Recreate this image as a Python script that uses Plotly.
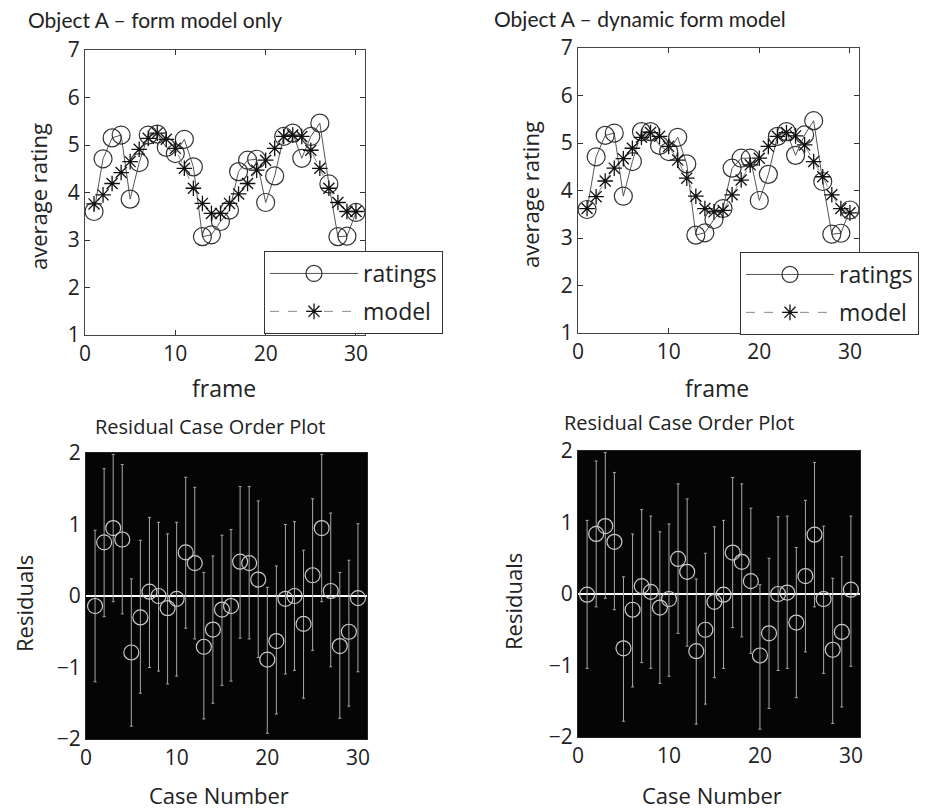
import plotly.graph_objects as go

W, H = 931, 812
FONT = "Open Sans"
TFONT = "Lato"

frames = list(range(1, 31))

ratings_form = [3.60, 4.71, 5.15, 5.21, 3.86, 4.63, 5.21, 5.23, 4.95, 4.82,
                5.12, 4.54, 3.07, 3.11, 3.39, 3.63, 4.44, 4.68, 4.70, 3.79,
                4.35, 5.18, 5.25, 4.72, 5.18, 5.46, 4.18, 3.07, 3.08, 3.58]
model_form = [3.76, 3.95, 4.19, 4.42, 4.65, 4.91, 5.14, 5.25, 5.12, 4.93,
              4.51, 4.09, 3.77, 3.56, 3.56, 3.77, 3.97, 4.19, 4.47, 4.68,
              4.93, 5.18, 5.21, 5.18, 4.89, 4.51, 4.09, 3.79, 3.60, 3.60]

ratings_dyn = [3.60, 4.71, 5.16, 5.21, 3.88, 4.61, 5.24, 5.24, 4.95, 4.82,
               5.12, 4.56, 3.06, 3.11, 3.39, 3.62, 4.47, 4.68, 4.68, 3.79,
               4.34, 5.14, 5.24, 4.74, 5.17, 5.47, 4.19, 3.08, 3.10, 3.59]
model_dyn = [3.62, 3.87, 4.20, 4.47, 4.67, 4.89, 5.12, 5.22, 5.14, 4.93,
             4.64, 4.26, 3.88, 3.62, 3.55, 3.58, 3.91, 4.22, 4.54, 4.68,
             4.93, 5.14, 5.22, 5.15, 4.96, 4.61, 4.29, 3.91, 3.62, 3.53]

resid_form = [-0.14, 0.75, 0.95, 0.79, -0.79, -0.30, 0.06, 0.00, -0.17, -0.04,
              0.61, 0.46, -0.71, -0.47, -0.19, -0.14, 0.48, 0.46, 0.23, -0.89,
              -0.63, -0.04, 0.00, -0.39, 0.29, 0.95, 0.07, -0.70, -0.50, -0.03]
resid_form_hi = [0.92, 1.78, 1.98, 1.84, 0.24, 0.78, 1.10, 1.03, 0.87, 1.03,
                 1.66, 1.52, 0.33, 0.56, 0.85, 0.93, 1.53, 1.53, 1.33, 0.12,
                 0.42, 1.00, 1.04, 0.64, 1.36, 1.98, 1.16, 0.33, 0.50, 1.01]
resid_form_lo = [-1.20, -0.29, -0.08, -0.25, -1.82, -1.36, -1.00, -1.05, -1.23, -1.12,
                 -0.45, -0.60, -1.72, -1.50, -1.25, -1.19, -0.59, -0.60, -0.86, -1.92,
                 -1.65, -1.09, -1.04, -1.43, -0.76, -0.08, -0.99, -1.71, -1.54, -1.06]

resid_dyn = [-0.01, 0.84, 0.95, 0.73, -0.76, -0.22, 0.11, 0.03, -0.19, -0.07,
             0.49, 0.31, -0.80, -0.50, -0.11, -0.01, 0.58, 0.45, 0.18, -0.86,
             -0.55, 0.00, 0.02, -0.40, 0.25, 0.83, -0.07, -0.78, -0.53, 0.06]
resid_dyn_hi = [1.03, 1.86, 1.98, 1.70, 0.24, 0.84, 1.18, 1.09, 0.87, 0.98,
                1.54, 1.33, 0.21, 0.57, 0.94, 1.03, 1.63, 1.54, 1.20, 0.13,
                0.50, 1.08, 1.09, 0.65, 1.31, 1.84, 0.95, 0.22, 0.52, 1.09]
resid_dyn_lo = [-1.04, -0.18, -0.06, -0.22, -1.78, -1.30, -0.96, -1.04, -1.25, -1.15,
                -0.55, -0.73, -1.82, -1.54, -1.17, -1.04, -0.47, -0.60, -0.83, -1.89,
                -1.60, -1.07, -1.04, -1.45, -0.81, -0.18, -1.11, -1.81, -1.58, -1.01]

titles_top = ["Object A \u2013 form model only", "Object A \u2013 dynamic form model"]
title_bottom = "Residual Case Order Plot"
top_yticks = [1, 2, 3, 4, 5, 6, 7]
x_ticks = [0, 10, 20, 30]
bottom_yticks = [-2, -1, 0, 1, 2]


def px(x):
    return x / W


def py(y):
    return 1 - y / H


fig = go.Figure()

# ---- top panels ----
for i, (rat, mod, leg) in enumerate([(ratings_form, model_form, "legend"),
                                     (ratings_dyn, model_dyn, "legend2")]):
    xa = "x" if i == 0 else "x2"
    ya = "y" if i == 0 else "y2"
    fig.add_trace(go.Scatter(
        x=frames, y=rat, mode="lines+markers", name="ratings",
        line=dict(color="#555555", width=1),
        marker=dict(symbol="circle-open", size=18, color="#333333",
                    line=dict(width=1.2, color="#333333")),
        xaxis=xa, yaxis=ya, legend=leg, legendgroup=f"r{i}"))
    fig.add_trace(go.Scatter(
        x=frames, y=mod, mode="lines+markers", name="model",
        line=dict(color="#8a8a8a", width=1, dash="dash"),
        marker=dict(symbol="asterisk-open", size=13, color="#111111",
                    line=dict(width=1.3, color="#111111")),
        xaxis=xa, yaxis=ya, legend=leg, legendgroup=f"m{i}"))

# ---- bottom panels ----
for i, (r, hi, lo) in enumerate([(resid_form, resid_form_hi, resid_form_lo),
                                 (resid_dyn, resid_dyn_hi, resid_dyn_lo)]):
    xa = "x3" if i == 0 else "x4"
    ya = "y3" if i == 0 else "y4"
    fig.add_trace(go.Scatter(
        x=frames, y=r, mode="markers", showlegend=False,
        marker=dict(symbol="circle-open", size=15, color="#c8c8c8",
                    line=dict(width=1.2, color="#c8c8c8")),
        error_y=dict(type="data", symmetric=False,
                     array=[h - v for h, v in zip(hi, r)],
                     arrayminus=[v - l for v, l in zip(r, lo)],
                     color="#a8a8a8", thickness=1, width=1.5),
        xaxis=xa, yaxis=ya))

tickfont = dict(family=FONT, size=21, color="#222222")

common_x = dict(range=[0, 31], tickvals=x_ticks, ticks="inside", ticklen=5,
                tickcolor="#333333", showline=True, linecolor="#444444",
                linewidth=1, mirror="ticks", showgrid=False, zeroline=False,
                tickfont=tickfont)
common_y_top = dict(range=[1, 7], tickvals=top_yticks, ticks="inside", ticklen=5,
                    tickcolor="#333333", showline=True, linecolor="#444444",
                    linewidth=1, mirror="ticks", showgrid=False, zeroline=False,
                    tickfont=tickfont)
common_y_bot = dict(range=[-2, 2], tickvals=bottom_yticks, ticks="", showline=True,
                    linecolor="#222222", linewidth=1, mirror=True, showgrid=False,
                    zeroline=True, zerolinecolor="#ffffff", zerolinewidth=2,
                    tickfont=tickfont)
common_x_bot = dict(common_x)
common_x_bot.update(ticks="", linecolor="#222222", mirror=True)

legfont = dict(family=FONT, size=23, color="#222222")

fig.update_layout(
    width=W, height=H,
    margin=dict(l=0, r=0, t=0, b=0, autoexpand=False),
    paper_bgcolor="white",
    plot_bgcolor="white",
    font=dict(family=FONT, size=21, color="#222222"),
    xaxis=dict(common_x, domain=[px(85), px(365)], anchor="y"),
    yaxis=dict(common_y_top, domain=[py(335), py(50)], anchor="x"),
    xaxis2=dict(common_x, domain=[px(578), px(859)], anchor="y2"),
    yaxis2=dict(common_y_top, domain=[py(333), py(48)], anchor="x2"),
    xaxis3=dict(common_x_bot, domain=[px(86), px(367)], anchor="y3"),
    yaxis3=dict(common_y_bot, domain=[py(739), py(453)], anchor="x3"),
    xaxis4=dict(common_x_bot, domain=[px(578), px(860)], anchor="y4"),
    yaxis4=dict(common_y_bot, domain=[py(737), py(451)], anchor="x4"),
    legend=dict(x=px(264), y=py(251), xanchor="left", yanchor="top",
                bgcolor="white", bordercolor="#333333", borderwidth=1,
                itemwidth=88, tracegroupgap=5, font=legfont),
    legend2=dict(x=px(740), y=py(252), xanchor="left", yanchor="top",
                 bgcolor="white", bordercolor="#333333", borderwidth=1,
                 itemwidth=88, tracegroupgap=5, font=legfont),
)

# black backgrounds for residual panels
for xr, yr in [("x3", "y3"), ("x4", "y4")]:
    fig.add_shape(type="rect", xref=f"{xr} domain", yref=f"{yr} domain",
                  x0=0, x1=1, y0=0, y1=1, fillcolor="#050505",
                  line=dict(width=0), layer="below")


def ann(text, x, y, size=22, angle=0, family=FONT):
    fig.add_annotation(text=text, x=px(x), y=py(y), xref="paper", yref="paper",
                       showarrow=False, textangle=angle,
                       font=dict(family=family, size=size, color="#222222"),
                       xanchor="center", yanchor="middle")


ann(titles_top[0], 155, 20, size=21, family=TFONT)
ann(titles_top[1], 640, 18, size=21, family=TFONT)
ann("frame", 224, 388, size=23)
ann("frame", 717, 388, size=23)
ann("average rating", 38, 197, angle=-90)
ann("average rating", 530, 195, angle=-90)
ann(title_bottom, 210, 426, size=20)
ann(title_bottom, 679, 422, size=20)
ann("Case Number", 219, 795)
ann("Case Number", 712, 795)
ann("Residuals", 24, 604, angle=-90)
ann("Residuals", 513, 602, angle=-90)

fig.write_html("out.html")
